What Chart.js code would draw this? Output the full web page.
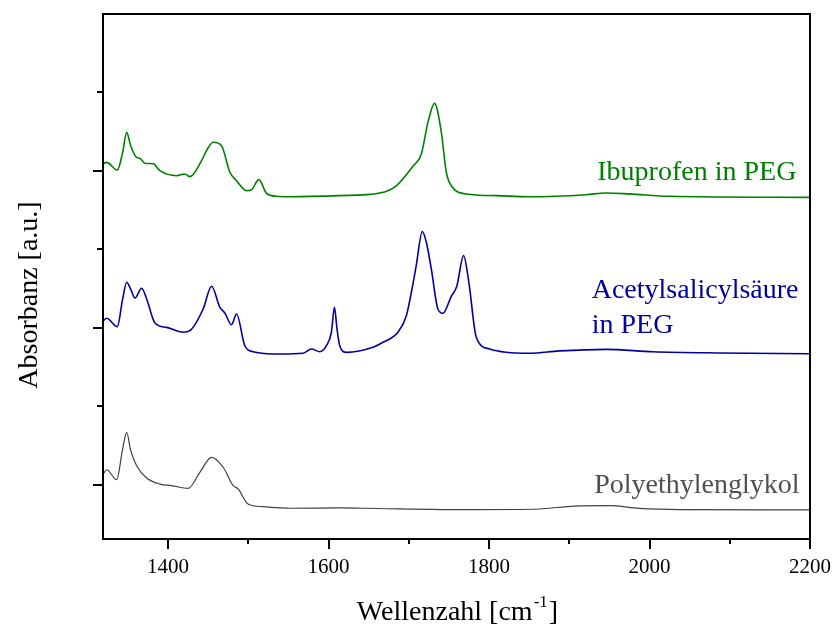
<!DOCTYPE html>
<html>
<head>
<meta charset="utf-8">
<script src="https://cdn.jsdelivr.net/npm/chart.js@4"></script>
<style>
  html, body { margin: 0; padding: 0; background: #fff; }
  #wrap { width: 836px; height: 632px; }
</style>
</head>
<body>
<div id="wrap"><canvas id="chart" width="836" height="632"></canvas></div>
<script>
// Ibuprofen in PEG (gruen)
const ibuWn = [1319, 1323.6, 1336.8, 1343.5, 1348.5, 1353.5, 1360.9, 1365, 1371.3, 1381.6, 1389.9, 1410.7, 1421.1, 1427.3, 1441.8, 1448, 1456.3, 1466.7, 1477.1, 1485.4, 1497.8, 1504.1, 1513.2, 1522.7, 1535.2, 1551.7, 1614, 1663.8, 1684.5, 1705.2, 1715.7, 1723.9, 1732.2, 1740.6, 1746.8, 1753, 1771.7, 1809, 1850.4, 1921, 1945.9, 1974.9, 2024.7, 2199];
const ibuAbs = [3.045, 3.055, 3.006, 3.119, 3.246, 3.161, 3.087, 3.081, 3.049, 3.046, 3.002, 2.970, 2.981, 2.964, 3.066, 3.13, 3.183, 3.161, 2.992, 2.938, 2.875, 2.881, 2.945, 2.858, 2.839, 2.836, 2.843, 2.860, 2.906, 3.030, 3.108, 3.310, 3.431, 3.246, 2.992, 2.906, 2.854, 2.843, 2.836, 2.849, 2.860, 2.854, 2.839, 2.832];

// Acetylsalicylsaeure in PEG (blau)
const ascWn = [1319.4, 1323.6, 1336.8, 1343.5, 1348.5, 1353.5, 1358.8, 1367.2, 1373.4, 1383.7, 1398.3, 1418.9, 1427.3, 1443.8, 1454.3, 1464.6, 1470.8, 1479.2, 1485.4, 1495.7, 1506.1, 1539.3, 1568.3, 1578.7, 1589.1, 1597.4, 1603.6, 1607.4, 1610.6, 1614, 1622.3, 1655.4, 1667.9, 1686.5, 1697, 1705.2, 1709.3, 1716.9, 1721.9, 1728.1, 1736.3, 1742.5, 1753, 1759.9, 1768.3, 1774.9, 1784.1, 1800.7, 1821.4, 1850.4, 1887.8, 1945.9, 2004, 2087, 2199];
const ascAbs = [2.046, 2.062, 2.008, 2.185, 2.291, 2.248, 2.191, 2.253, 2.185, 2.032, 2.004, 1.973, 1.983, 2.121, 2.266, 2.132, 2.096, 2.021, 2.089, 1.887, 1.849, 1.834, 1.839, 1.866, 1.849, 1.887, 1.973, 2.132, 1.994, 1.887, 1.845, 1.877, 1.909, 1.973, 2.078, 2.28, 2.397, 2.615, 2.546, 2.376, 2.121, 2.094, 2.202, 2.266, 2.461, 2.291, 1.941, 1.866, 1.845, 1.839, 1.854, 1.864, 1.849, 1.841, 1.836];

// Polyethylenglykol (grau)
const pegWn = [1319.4, 1323.6, 1336, 1343.5, 1348.5, 1353.5, 1360.9, 1373.4, 1389.9, 1404.5, 1425.2, 1439.7, 1454.3, 1468.7, 1481.2, 1487.4, 1499.8, 1518.5, 1551.7, 1614, 1643, 1779.9, 1862.9, 1906.4, 1950, 1987.4, 2037.2, 2199];
const pegAbs = [1.070, 1.097, 1.034, 1.23, 1.336, 1.22, 1.123, 1.045, 1.006, 0.996, 0.979, 1.081, 1.176, 1.113, 0.996, 0.975, 0.879, 0.862, 0.852, 0.854, 0.852, 0.843, 0.847, 0.866, 0.868, 0.851, 0.843, 0.841];

// ticks
const xMajor = [1400, 1600, 1800, 2000, 2200];
const xMinor = [1500, 1700, 1900, 2100];
const yMajor = [1, 2, 3];
const yMinor = [1.5, 2.5, 3.5];

const serif = '"Liberation Serif", "Times New Roman", serif';

function toPoints(xs, ys) {
    return xs.map((v, i) => ({ x: v, y: ys[i] }));
}

// rahmen, ticks, achsentitel und beschriftungen
const deko = {
    id: 'deko',
    afterDraw(chart) {
        const { ctx, chartArea: a, scales: { x, y } } = chart;
        ctx.save();
        ctx.strokeStyle = '#000';
        ctx.lineWidth = 2;
        ctx.strokeRect(a.left, a.top, a.right - a.left, a.bottom - a.top);

        ctx.beginPath();
        xMajor.forEach(v => { const p = Math.round(x.getPixelForValue(v)); ctx.moveTo(p, a.bottom); ctx.lineTo(p, a.bottom + 10); });
        xMinor.forEach(v => { const p = Math.round(x.getPixelForValue(v)); ctx.moveTo(p, a.bottom); ctx.lineTo(p, a.bottom + 5); });
        yMajor.forEach(v => { const p = Math.round(y.getPixelForValue(v)); ctx.moveTo(a.left, p); ctx.lineTo(a.left - 10, p); });
        yMinor.forEach(v => { const p = Math.round(y.getPixelForValue(v)); ctx.moveTo(a.left, p); ctx.lineTo(a.left - 6, p); });
        ctx.stroke();

        // y titel
        ctx.fillStyle = '#000';
        ctx.font = '28px ' + serif;
        ctx.save();
        ctx.translate(37, 295);
        ctx.rotate(-Math.PI / 2);
        ctx.textAlign = 'center';
        ctx.textBaseline = 'alphabetic';
        ctx.fillText('Absorbanz [a.u.]', 0, 0);
        ctx.restore();

        // x titel mit hochgestellt
        const t1 = 'Wellenzahl [cm', t2 = '-1', t3 = ']';
        ctx.font = '28px ' + serif;
        const w1 = ctx.measureText(t1).width, w3 = ctx.measureText(t3).width;
        ctx.font = '17px ' + serif;
        const w2 = ctx.measureText(t2).width;
        let xs = (a.left + a.right) / 2 - (w1 + w2 + w3) / 2;
        ctx.textAlign = 'left';
        ctx.textBaseline = 'alphabetic';
        ctx.font = '28px ' + serif;
        ctx.fillText(t1, xs, 620);
        ctx.font = '17px ' + serif;
        ctx.fillText(t2, xs + w1 + 1, 607);
        ctx.font = '28px ' + serif;
        ctx.fillText(t3, xs + w1 + w2 + 2, 620);

        // beschriftungen der kurven
        ctx.font = '28px ' + serif;
        ctx.fillStyle = '#008000';
        ctx.textAlign = 'right';
        ctx.fillText('Ibuprofen in PEG', x.getPixelForValue(2183), y.getPixelForValue(2.943));
        ctx.fillStyle = '#0000a0';
        ctx.textAlign = 'left';
        ctx.fillText('Acetylsalicylsäure', x.getPixelForValue(1928), y.getPixelForValue(2.191));
        ctx.fillText('in PEG', x.getPixelForValue(1928), y.getPixelForValue(1.968));
        ctx.fillStyle = '#505050';
        ctx.textAlign = 'right';
        ctx.fillText('Polyethylenglykol', x.getPixelForValue(2187), y.getPixelForValue(0.949));
        ctx.restore();
    }
};

new Chart(document.getElementById('chart'), {
    type: 'line',
    data: {
        datasets: [
            { label: 'Ibuprofen in PEG', data: toPoints(ibuWn, ibuAbs), borderColor: '#008000', borderWidth: 1.6 },
            { label: 'Acetylsalicylsäure in PEG', data: toPoints(ascWn, ascAbs), borderColor: '#0000a0', borderWidth: 1.6 },
            { label: 'Polyethylenglykol', data: toPoints(pegWn, pegAbs), borderColor: '#404040', borderWidth: 1.2 }
        ]
    },
    options: {
        responsive: false,
        animation: false,
        layout: { padding: { top: 14, right: 26, left: 0, bottom: 0 } },
        elements: { point: { radius: 0 }, line: { cubicInterpolationMode: 'monotone', fill: false } },
        plugins: { legend: { display: false }, tooltip: { enabled: false } },
        scales: {
            x: {
                type: 'linear',
                min: 1319,
                max: 2200,
                grid: { display: false, drawTicks: true, tickLength: 10 },
                border: { display: false },
                ticks: {
                    color: '#000', padding: 6, maxRotation: 0,
                    font: { family: serif, size: 21 },
                    callback: v => String(v)
                },
                afterBuildTicks: s => { s.ticks = xMajor.map(v => ({ value: v })); },
                afterFit: s => { s.height = 93; s.paddingRight = 0; }
            },
            y: {
                min: 0.656,
                max: 4.0,
                grid: { display: false },
                border: { display: false },
                ticks: { display: false },
                afterFit: s => { s.width = 103; }
            }
        }
    },
    plugins: [deko]
});
</script>
</body>
</html>
